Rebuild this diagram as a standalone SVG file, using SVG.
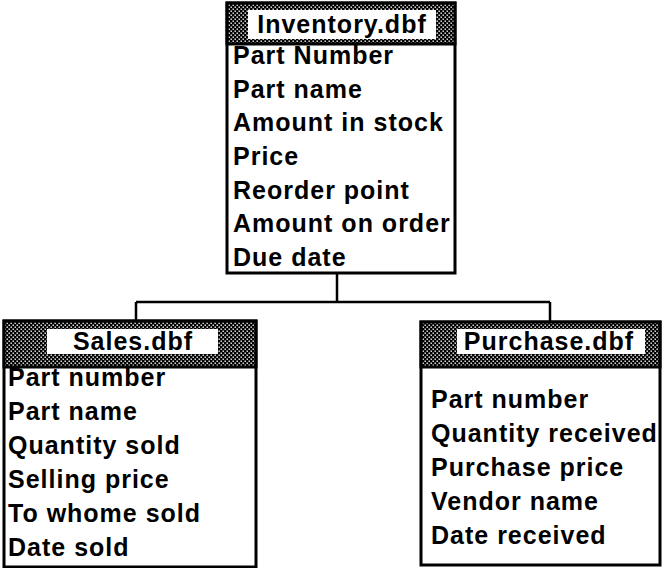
<svg xmlns="http://www.w3.org/2000/svg" width="663" height="568" viewBox="0 0 663 568">
<defs>
<pattern id="dots" width="4" height="4" patternUnits="userSpaceOnUse">
<rect width="4" height="4" fill="#000"/>
<rect x="0.5" y="0.5" width="1.4" height="1.4" fill="#fff"/>
<rect x="2.5" y="2.5" width="1.4" height="1.4" fill="#fff"/>
</pattern>
</defs>
<style>
.box{fill:#fff;stroke:#000;stroke-width:3}
.bar{fill:url(#dots);stroke:#000;stroke-width:3}
.tw{fill:#fff;stroke:none}
.t{font-family:"Liberation Sans",Arial,sans-serif;font-weight:bold;font-size:25px;letter-spacing:1px;fill:#000}
.ttl{text-anchor:middle}
.conn{fill:none;stroke:#000;stroke-width:2.5}
</style>
<rect width="663" height="568" fill="#fff"/>
<g id="connectors">
<path class="conn" d="M337,273 V302 M136,302 H550 M136,302 V321 M550,302 V322"/>
</g>
<g id="inventory">
<rect class="box" x="227" y="3" width="228" height="270"/>
<rect class="bar" x="227" y="3" width="228" height="41"/>
<rect class="tw" x="248" y="10" width="188" height="29"/>
<text class="t ttl" x="342" y="33">Inventory.dbf</text>
<text class="t" x="233" y="64">Part Number</text>
<text class="t" x="233" y="98">Part name</text>
<text class="t" x="233" y="131">Amount in stock</text>
<text class="t" x="233" y="165">Price</text>
<text class="t" x="233" y="199">Reorder point</text>
<text class="t" x="233" y="232">Amount on order</text>
<text class="t" x="233" y="266">Due date</text>
</g>
<g id="sales">
<rect class="box" x="4" y="321" width="252" height="246"/>
<rect class="bar" x="4" y="321" width="252" height="46"/>
<rect class="tw" x="47" y="329" width="171" height="25"/>
<text class="t ttl" x="133" y="350">Sales.dbf</text>
<text class="t" x="8" y="386">Part number</text>
<text class="t" x="8" y="420">Part name</text>
<text class="t" x="8" y="454">Quantity sold</text>
<text class="t" x="8" y="488">Selling price</text>
<text class="t" x="8" y="522">To whome sold</text>
<text class="t" x="8" y="556">Date sold</text>
</g>
<g id="purchase">
<rect class="box" x="421" y="322" width="239" height="243"/>
<rect class="bar" x="421" y="322" width="239" height="45"/>
<rect class="tw" x="457" y="329" width="188" height="25"/>
<text class="t ttl" x="549" y="350">Purchase.dbf</text>
<text class="t" x="431" y="408">Part number</text>
<text class="t" x="431" y="442">Quantity received</text>
<text class="t" x="431" y="476">Purchase price</text>
<text class="t" x="431" y="510">Vendor name</text>
<text class="t" x="431" y="544">Date received</text>
</g>
</svg>
